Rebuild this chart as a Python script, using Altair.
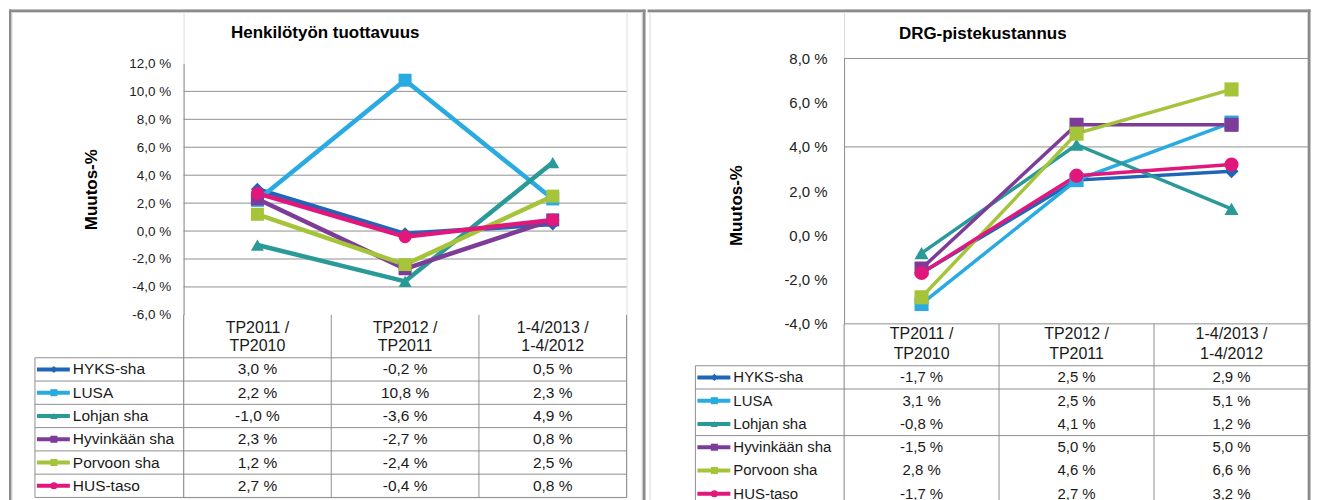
import altair as alt
import pandas as pd

FONT = "Liberation Sans"
GRID = "#8f8f8f"
FRAME = "#8a8a8a"
LIGHT = "#d6d6d6"

series = ["HYKS-sha", "LUSA", "Lohjan sha", "Hyvinkään sha", "Porvoon sha", "HUS-taso"]
cats = ["TP2011 / TP2010", "TP2012 / TP2011", "1-4/2013 / 1-4/2012"]
shapes = ["diamond", "square", "triangle-up", "square", "square", "circle"]

colors_left = ["#1f66b8", "#29abe2", "#2a9a98", "#7d3c98", "#a5c43a", "#e2177c"]
colors_right = ["#3d6aa8", "#2fb0e6", "#2a9a98", "#7d3c98", "#a5c43a", "#e2177c"]

# Henkilötyön tuottavuus (left)
left_title = "Henkilötyön tuottavuus"
left_hyks = [3.0, -0.2, 0.5]
left_lusa = [2.2, 10.8, 2.3]
left_lohja = [-1.0, -3.6, 4.9]
left_hyvinkaa = [2.3, -2.7, 0.8]
left_porvoo = [1.2, -2.4, 2.5]
left_hus = [2.7, -0.4, 0.8]
left_ticks = [-6, -4, -2, 0, 2, 4, 6, 8, 10, 12]
left_grid = [-4, -2, 0, 2, 4, 6, 8, 10]

# DRG-pistekustannus (right)
right_title = "DRG-pistekustannus"
right_hyks = [-1.7, 2.5, 2.9]
right_lusa = [-3.1, 2.5, 5.1]
right_lohja = [-0.8, 4.1, 1.2]
right_hyvinkaa = [-1.5, 5.0, 5.0]
right_porvoo = [-2.8, 4.6, 6.6]
right_hus = [-1.7, 2.7, 3.2]
right_ticks = [-4, -2, 0, 2, 4, 6, 8]
right_grid = [-4, 4, 8]
# first table column as printed in the reference table
right_table_col1 = ["-1,7 %", "3,1 %", "-0,8 %", "-1,5 %", "2,8 %", "-1,7 %"]
right_row_lines = ["HYKS-sha", "LUSA", "Hyvinkään sha"]


def fmt(v):
    return f"{v:.1f}".replace(".", ",") + " %"


ONE = pd.DataFrame({"k": [0]})


def bar(x, x2, y, y2, color):
    return alt.Chart(ONE).mark_rect(fill=color).encode(
        x=alt.value(x), x2=alt.value(x2), y=alt.value(y), y2=alt.value(y2))


def build_panel(title, vals, table_text, colors, ydom, yticks, grid_vals, W, H, y_range,
                row_top, row_line_series, tick_size, table_size, header_size, header_off,
                header_pad, header_lh, line_w, mark_size, label_pad, title_pad,
                title_x, title_y, axis_title_y, decor, right_edge, bottom_line):
    line_df = pd.DataFrame([
        {"series": s, "cat": c, "idx": j, "value": vals[i][j]}
        for i, s in enumerate(series) for j, c in enumerate(cats)
    ])
    text_df = pd.DataFrame([
        {"series": s, "cat": c, "text": table_text[i][j]}
        for i, s in enumerate(series) for j, c in enumerate(cats)
    ])
    names_df = pd.DataFrame({"series": series})

    xscale = alt.Scale(type="band", domain=cats, paddingInner=0, paddingOuter=0)
    xaxis = alt.Axis(
        orient="bottom", offset=header_off, domain=False, ticks=False, grid=False,
        labelAngle=0,
        labelExpr="[split(datum.label, ' / ')[0] + ' /', split(datum.label, ' / ')[1]]",
        labelFont=FONT, labelFontSize=header_size, labelColor="#1a1a1a",
        labelLineHeight=header_lh, labelPadding=header_pad, labelBaseline="top",
        labelOverlap=False, title=None,
    )

    def X(bp):
        return alt.X("cat:N", scale=xscale, axis=xaxis, bandPosition=bp)

    yscale = alt.Scale(domain=ydom, range=y_range, nice=False, zero=False)
    ykw = dict(
        values=yticks,
        labelExpr="replace(replace(format(datum.value, '.1f'), '.', ','), '\u2212', '-') + ' %'",
        grid=False, ticks=False, tickSize=0, domainColor=GRID, domainWidth=1,
        labelFont=FONT, labelFontSize=tick_size, labelColor="#222222",
        labelPadding=label_pad, title="Muutos-%", titleFont=FONT, titleFontSize=17,
        titleFontWeight="bold", titleColor="#000000", titlePadding=title_pad,
    )
    if axis_title_y is not None:
        ykw["titleY"] = axis_title_y
    yaxis = alt.Axis(**ykw)

    color_enc = alt.Color("series:N", scale=alt.Scale(domain=series, range=colors), legend=None)
    shape_enc = alt.Shape("series:N", scale=alt.Scale(domain=series, range=shapes), legend=None)

    grid = alt.Chart(pd.DataFrame({"g": grid_vals})).mark_rule(color=GRID, strokeWidth=1).encode(
        y=alt.Y("g:Q", scale=yscale, axis=yaxis), x=alt.value(0), x2=alt.value("width"))
    vdiv = alt.Chart(pd.DataFrame({"cat": cats})).mark_rule(color=GRID, strokeWidth=1).encode(
        x=X(0), y=alt.YDatum(ydom[0], scale=yscale, axis=yaxis), y2=alt.value("height"))
    lines = alt.Chart(line_df).mark_line(strokeWidth=line_w).encode(
        x=X(0.5), y=alt.Y("value:Q", scale=yscale, axis=yaxis), color=color_enc,
        order=alt.Order("idx:Q"))
    points = alt.Chart(line_df).mark_point(filled=True, opacity=1, size=mark_size).encode(
        x=X(0.5), y=alt.Y("value:Q", scale=yscale, axis=yaxis), color=color_enc, shape=shape_enc)
    a_layers = [grid, vdiv]
    if right_edge:
        a_layers.append(alt.Chart(ONE).mark_rule(color=GRID, strokeWidth=1).encode(
            x=alt.value("width"), y=alt.YDatum(ydom[0], scale=yscale, axis=yaxis),
            y2=alt.value("height")))
    a_layers += [lines, points]
    sub_a = alt.layer(*a_layers)

    ytscale = alt.Scale(type="band", domain=series, range=[row_top, H], paddingInner=0, paddingOuter=0)

    def Yt(bp):
        return alt.Y("series:N", scale=ytscale, axis=None, bandPosition=bp)

    row_lines = alt.Chart(pd.DataFrame({"series": row_line_series})).mark_rule(color=GRID).encode(
        x=alt.value(-149), x2=alt.value("width"), y=Yt(0))
    name_border = alt.Chart(pd.DataFrame({"series": [series[0]]})).mark_rule(color=GRID).encode(
        x=alt.value(-149), y=Yt(0), y2=alt.value("height"))
    cells = alt.Chart(text_df).mark_text(font=FONT, fontSize=table_size, color="#1a1a1a").encode(
        x=X(0.5), y=Yt(0.5), text="text:N")
    names = alt.Chart(names_df).mark_text(font=FONT, fontSize=table_size, color="#1a1a1a",
                                          align="left").encode(
        x=alt.value(-111), y=Yt(0.5), text="series:N")
    sym_lines = alt.Chart(names_df).mark_rule(strokeWidth=4).encode(
        x=alt.value(-147), x2=alt.value(-114), y=Yt(0.5), color=color_enc)
    sym_pts = alt.Chart(names_df).mark_point(filled=True, opacity=1, size=50).encode(
        x=alt.value(-130), y=Yt(0.5), color=color_enc, shape=shape_enc)
    b_layers = [row_lines, name_border]
    if bottom_line:
        b_layers.append(alt.Chart(ONE).mark_rule(color=GRID).encode(
            x=alt.value(-149), x2=alt.value("width"), y=alt.value("height")))
    b_layers += [cells, names, sym_lines, sym_pts]
    sub_b = alt.layer(*b_layers)

    title_layer = alt.Chart(ONE).mark_text(
        text=title, font=FONT, fontSize=17, fontWeight="bold", color="#000000").encode(
        x=alt.value(title_x), y=alt.value(title_y))

    return alt.layer(*decor, title_layer, sub_a, sub_b).resolve_scale(y="independent").properties(
        width=W, height=H)


def table_rows(vals):
    return [[fmt(v) for v in row] for row in vals]


left_vals = [left_hyks, left_lusa, left_lohja, left_hyvinkaa, left_porvoo, left_hus]
right_vals = [right_hyks, right_lusa, right_lohja, right_hyvinkaa, right_porvoo, right_hus]
left_text = table_rows(left_vals)
right_text = table_rows(right_vals)
for i in range(len(series)):
    right_text[i][0] = right_table_col1[i]

# both panels: plot origin y at the top of the outer frame (screen y = 8)
LH = 489
left_decor = [
    bar(-175, 463, 0, 2.5, FRAME),
    bar(-175, -172.5, 0, 492, FRAME),
    bar(460, 463, 0, 492, FRAME),
    bar(-172.5, 460, 2.5, 3.5, LIGHT),
    bar(-172.5, -171.5, 2.5, 492, LIGHT),
    bar(459, 460, 2.5, 492, LIGHT),
]
left = build_panel(
    left_title, left_vals, left_text, colors_left, [-6, 12], left_ticks, left_grid,
    W=444, H=LH, y_range=[306, 54], row_top=349, row_line_series=series,
    tick_size=13.5, table_size=15.5, header_size=16, header_off=306 - LH, header_pad=5,
    header_lh=18, line_w=4.5, mark_size=170, label_pad=13, title_pad=28,
    title_x=142, title_y=23, axis_title_y=None, decor=left_decor,
    right_edge=True, bottom_line=True)

# the whole chart must fit in the 1303 px wide page body
RW = 466
RH = 497
right_decor = [
    bar(-197, RW + 1.5, 0, 2.5, FRAME),
    bar(RW - 1, RW + 1.5, 0, RH, FRAME),
    bar(-197, RW - 1, 2.5, 3.5, LIGHT),
    bar(-195, -194, 2.5, RH, LIGHT),
    bar(RW - 2, RW - 1, 2.5, RH, LIGHT),
]
right = build_panel(
    right_title, right_vals, right_text, colors_right, [-4, 8], right_ticks, right_grid,
    W=RW, H=RH, y_range=[315, 49], row_top=357, row_line_series=right_row_lines,
    tick_size=15, table_size=15, header_size=16, header_off=315 - RH, header_pad=2,
    header_lh=20, line_w=3.5, mark_size=200, label_pad=17, title_pad=38,
    title_x=139, title_y=24, axis_title_y=196, decor=right_decor,
    right_edge=False, bottom_line=False)

chart = alt.hconcat(left, right, spacing=0).configure_view(stroke=None).configure(
    font=FONT).properties(padding=0, background="white")

chart.save("out.html", embed_options={"renderer": "svg", "actions": False})
